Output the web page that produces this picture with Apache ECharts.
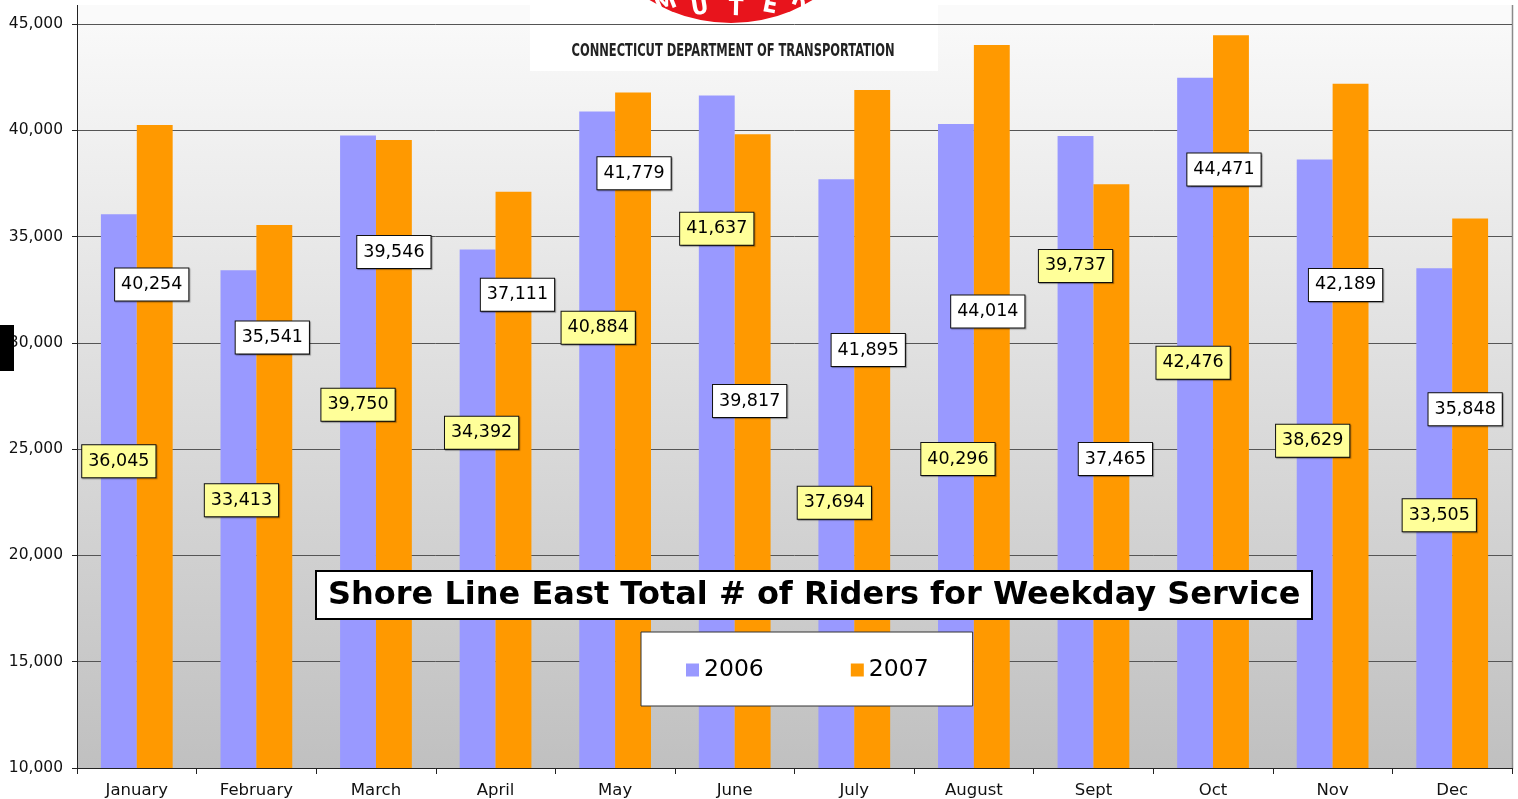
<!DOCTYPE html>
<html>
<head>
<meta charset="utf-8">
<script src="https://cdn.jsdelivr.net/npm/echarts@6/dist/echarts.min.js"></script>
<style>
  html, body { margin: 0; padding: 0; background: #fff; }
  #main { width: 1518px; height: 799px; }
</style>
</head>
<body>
<div id="main"></div>
<script>
const months = ['January', 'February', 'March', 'April', 'May', 'June', 'July', 'August', 'Sept', 'Oct', 'Nov', 'Dec'];
const riders2006 = [36045, 33413, 39750, 34392, 40884, 41637, 37694, 40296, 39737, 42476, 38629, 33505];
const riders2007 = [40254, 35541, 39546, 37111, 41779, 39817, 41895, 44014, 37465, 44471, 42189, 35848];
const yTicks = [10000, 15000, 20000, 25000, 30000, 35000, 40000, 45000];

// label boxes were dragged around in the original, offsets from bar middle (px)
const nudge2006 = [[0, -30], [3, -19], [0, -47], [4, -76], [1, -112], [0, -203], [-2, 29], [2, 13], [0, -186], [-2, -60], [-2, -23], [5, -3]];
const nudge2007 = [[-3, -162], [-2, -159], [0, -202], [4, -185], [1, -257], [-3, -50], [-4, -79], [-4, -95], [4, -17], [-7, -232], [-5, -141], [-5, -84]];

const fmt = v => v.toLocaleString('en-US');

function boxLabel(bg, off) {
    return {
        show: true,
        position: 'inside',
        offset: off,
        formatter: p => fmt(p.value),
        color: '#000',
        fontFamily: 'DejaVu Sans',
        fontSize: 17.5,
        backgroundColor: bg,
        borderColor: '#111',
        borderWidth: 1,
        padding: [8, 6, 6, 6],
        shadowColor: 'rgba(0,0,0,0.35)',
        shadowOffsetX: 1,
        shadowOffsetY: 1,
        shadowBlur: 1
    };
}

const chart = echarts.init(document.getElementById('main'));

const logoFont = 'bold 24px "DejaVu Sans Condensed"';

let option = {
    backgroundColor: '#fff',
    animation: false,
    grid: {
        left: 77, right: 6, top: 24, bottom: 30,
        show: true,
        borderWidth: 0,
        backgroundColor: {
            type: 'linear', x: 0, y: 0, x2: 0, y2: 1,
            colorStops: [{offset: 0, color: '#f9f9f9'}, {offset: 1, color: '#c0c0c0'}]
        }
    },
    title: {
        text: 'Shore Line East Total # of Riders for Weekday Service',
        left: 316, top: 571,
        backgroundColor: '#fff',
        borderColor: '#000',
        borderWidth: 2,
        padding: [9, 12, 7, 12],
        textStyle: {fontFamily: 'DejaVu Sans', fontWeight: 'bold', fontSize: 32, color: '#000'}
    },
    legend: {
        data: ['2006', '2007'],
        left: 641, top: 632,
        orient: 'horizontal',
        backgroundColor: '#fff',
        borderColor: '#333',
        borderWidth: 1,
        padding: [26, 44, 24, 45],
        itemGap: 87,
        itemWidth: 13,
        itemHeight: 13,
        icon: 'rect',
        textStyle: {fontFamily: 'DejaVu Sans', fontSize: 23.5, color: '#000', padding: [2, 0, 0, 0]}
    },
    xAxis: {
        type: 'category',
        data: months,
        axisLine: {lineStyle: {color: '#222', width: 1}},
        axisTick: {show: true, length: 6, alignWithLabel: false, lineStyle: {color: '#222'}},
        axisLabel: {fontFamily: 'DejaVu Sans', fontSize: 16.5, color: '#111', margin: 14}
    },
    yAxis: {
        type: 'value',
        min: yTicks[0],
        max: yTicks[yTicks.length - 1],
        interval: 5000,
        axisLine: {show: true, lineStyle: {color: '#222', width: 1}},
        axisTick: {show: true, length: 5, lineStyle: {color: '#222'}},
        axisLabel: {fontFamily: 'DejaVu Sans', fontSize: 15.5, color: '#111', margin: 14, formatter: v => fmt(v)},
        splitLine: {lineStyle: {color: '#555', width: 1}}
    },
    series: [
        {
            name: '2006',
            type: 'bar',
            barWidth: '30%',
            barGap: '0%',
            itemStyle: {color: '#9999ff'},
            data: riders2006.map((v, i) => ({value: v, label: boxLabel('#ffff99', nudge2006[i])}))
        },
        {
            name: '2007',
            type: 'bar',
            barWidth: '30%',
            itemStyle: {color: '#ff9900'},
            data: riders2007.map((v, i) => ({value: v, label: boxLabel('#ffffff', nudge2007[i])}))
        }
    ],
    graphic: [
        // plot area sticks out a bit above the 45,000 line
        {type: 'rect', shape: {x: 77, y: 5, width: 1436, height: 19}, style: {fill: '#fafafa'}, z: -1},
        {type: 'line', shape: {x1: 77.5, y1: 5, x2: 77.5, y2: 24}, style: {stroke: '#222', lineWidth: 1}},
        {type: 'line', shape: {x1: 1512.5, y1: 5, x2: 1512.5, y2: 769}, style: {stroke: '#8a8a8a', lineWidth: 1.5}},
        // black blob on the left edge
        {type: 'rect', shape: {x: 0, y: 325, width: 14, height: 46}, style: {fill: '#000'}, z: 100},
        // logo
        {
            type: 'group', z: 100,
            children: [
                {type: 'rect', shape: {x: 530, y: 0, width: 408, height: 71}, style: {fill: '#fff'}},
                {type: 'circle', shape: {cx: 731, cy: -133, r: 156}, style: {fill: '#e8141c'}},
                {type: 'text', x: 666, y: 4, rotation: 0.38, style: {text: 'M', fill: '#fff', font: logoFont, align: 'center', verticalAlign: 'middle'}},
                {type: 'text', x: 700, y: 8, rotation: 0.16, style: {text: 'U', fill: '#fff', font: logoFont, align: 'center', verticalAlign: 'middle'}},
                {type: 'text', x: 736, y: 9, rotation: -0.02, style: {text: 'T', fill: '#fff', font: logoFont, align: 'center', verticalAlign: 'middle'}},
                {type: 'text', x: 770, y: 6, rotation: -0.2, style: {text: 'E', fill: '#fff', font: logoFont, align: 'center', verticalAlign: 'middle'}},
                {type: 'text', x: 800, y: 0, rotation: -0.38, style: {text: 'R', fill: '#fff', font: logoFont, align: 'center', verticalAlign: 'middle'}},
                {type: 'text', x: 733, y: 52, scaleX: 0.75, originX: 0, originY: 0, style: {text: 'CONNECTICUT DEPARTMENT OF TRANSPORTATION', fill: '#222', font: 'bold 17px "DejaVu Sans Condensed"', align: 'center', verticalAlign: 'middle'}}
            ]
        }
    ]
};

chart.setOption(option);
</script>
</body>
</html>
